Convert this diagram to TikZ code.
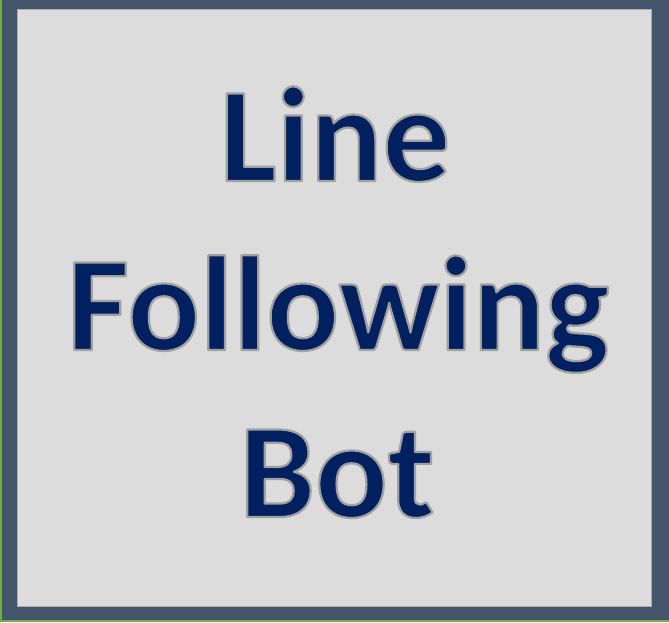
\documentclass[tikz,border=0pt]{standalone}
\usepackage{fontspec}
\setmainfont{Carlito}
\definecolor{framecol}{HTML}{44546A}
\definecolor{edgegreen}{HTML}{70AD47}
\definecolor{panel}{HTML}{DCDCDC}
\definecolor{navy}{HTML}{002060}
\definecolor{halo}{HTML}{A0A0A0}
\newcommand{\haloed}[1]{\special{pdf:bcontent}\special{pdf:literal 2 Tr 2.2 w 1 j 0.63 0.63 0.63 RG}#1\special{pdf:econtent}}
\tikzset{
  title/.style={anchor=base, inner sep=0pt, text=navy,
    font=\fontsize{135}{160}\selectfont\bfseries}
}
\begin{document}
\begin{tikzpicture}[x=1pt,y=-1pt]
\useasboundingbox (0,0) rectangle (669,622);
\fill[edgegreen] (0,0) rectangle (669,622);
\fill[framecol] (2,0) rectangle (669,620);
\fill[panel] (17,9) rectangle (652,607);
\draw[halo!80!panel, line width=1pt] (17.5,9.5) rectangle (651.5,606.5);
\node[title] (l1) at (335,181) {\haloed{Line}};
\node[title] (l2) at (338,350) {\haloed{Following}};
\node[title] (l3) at (337,517) {\haloed{Bot}};
\end{tikzpicture}
\end{document}
